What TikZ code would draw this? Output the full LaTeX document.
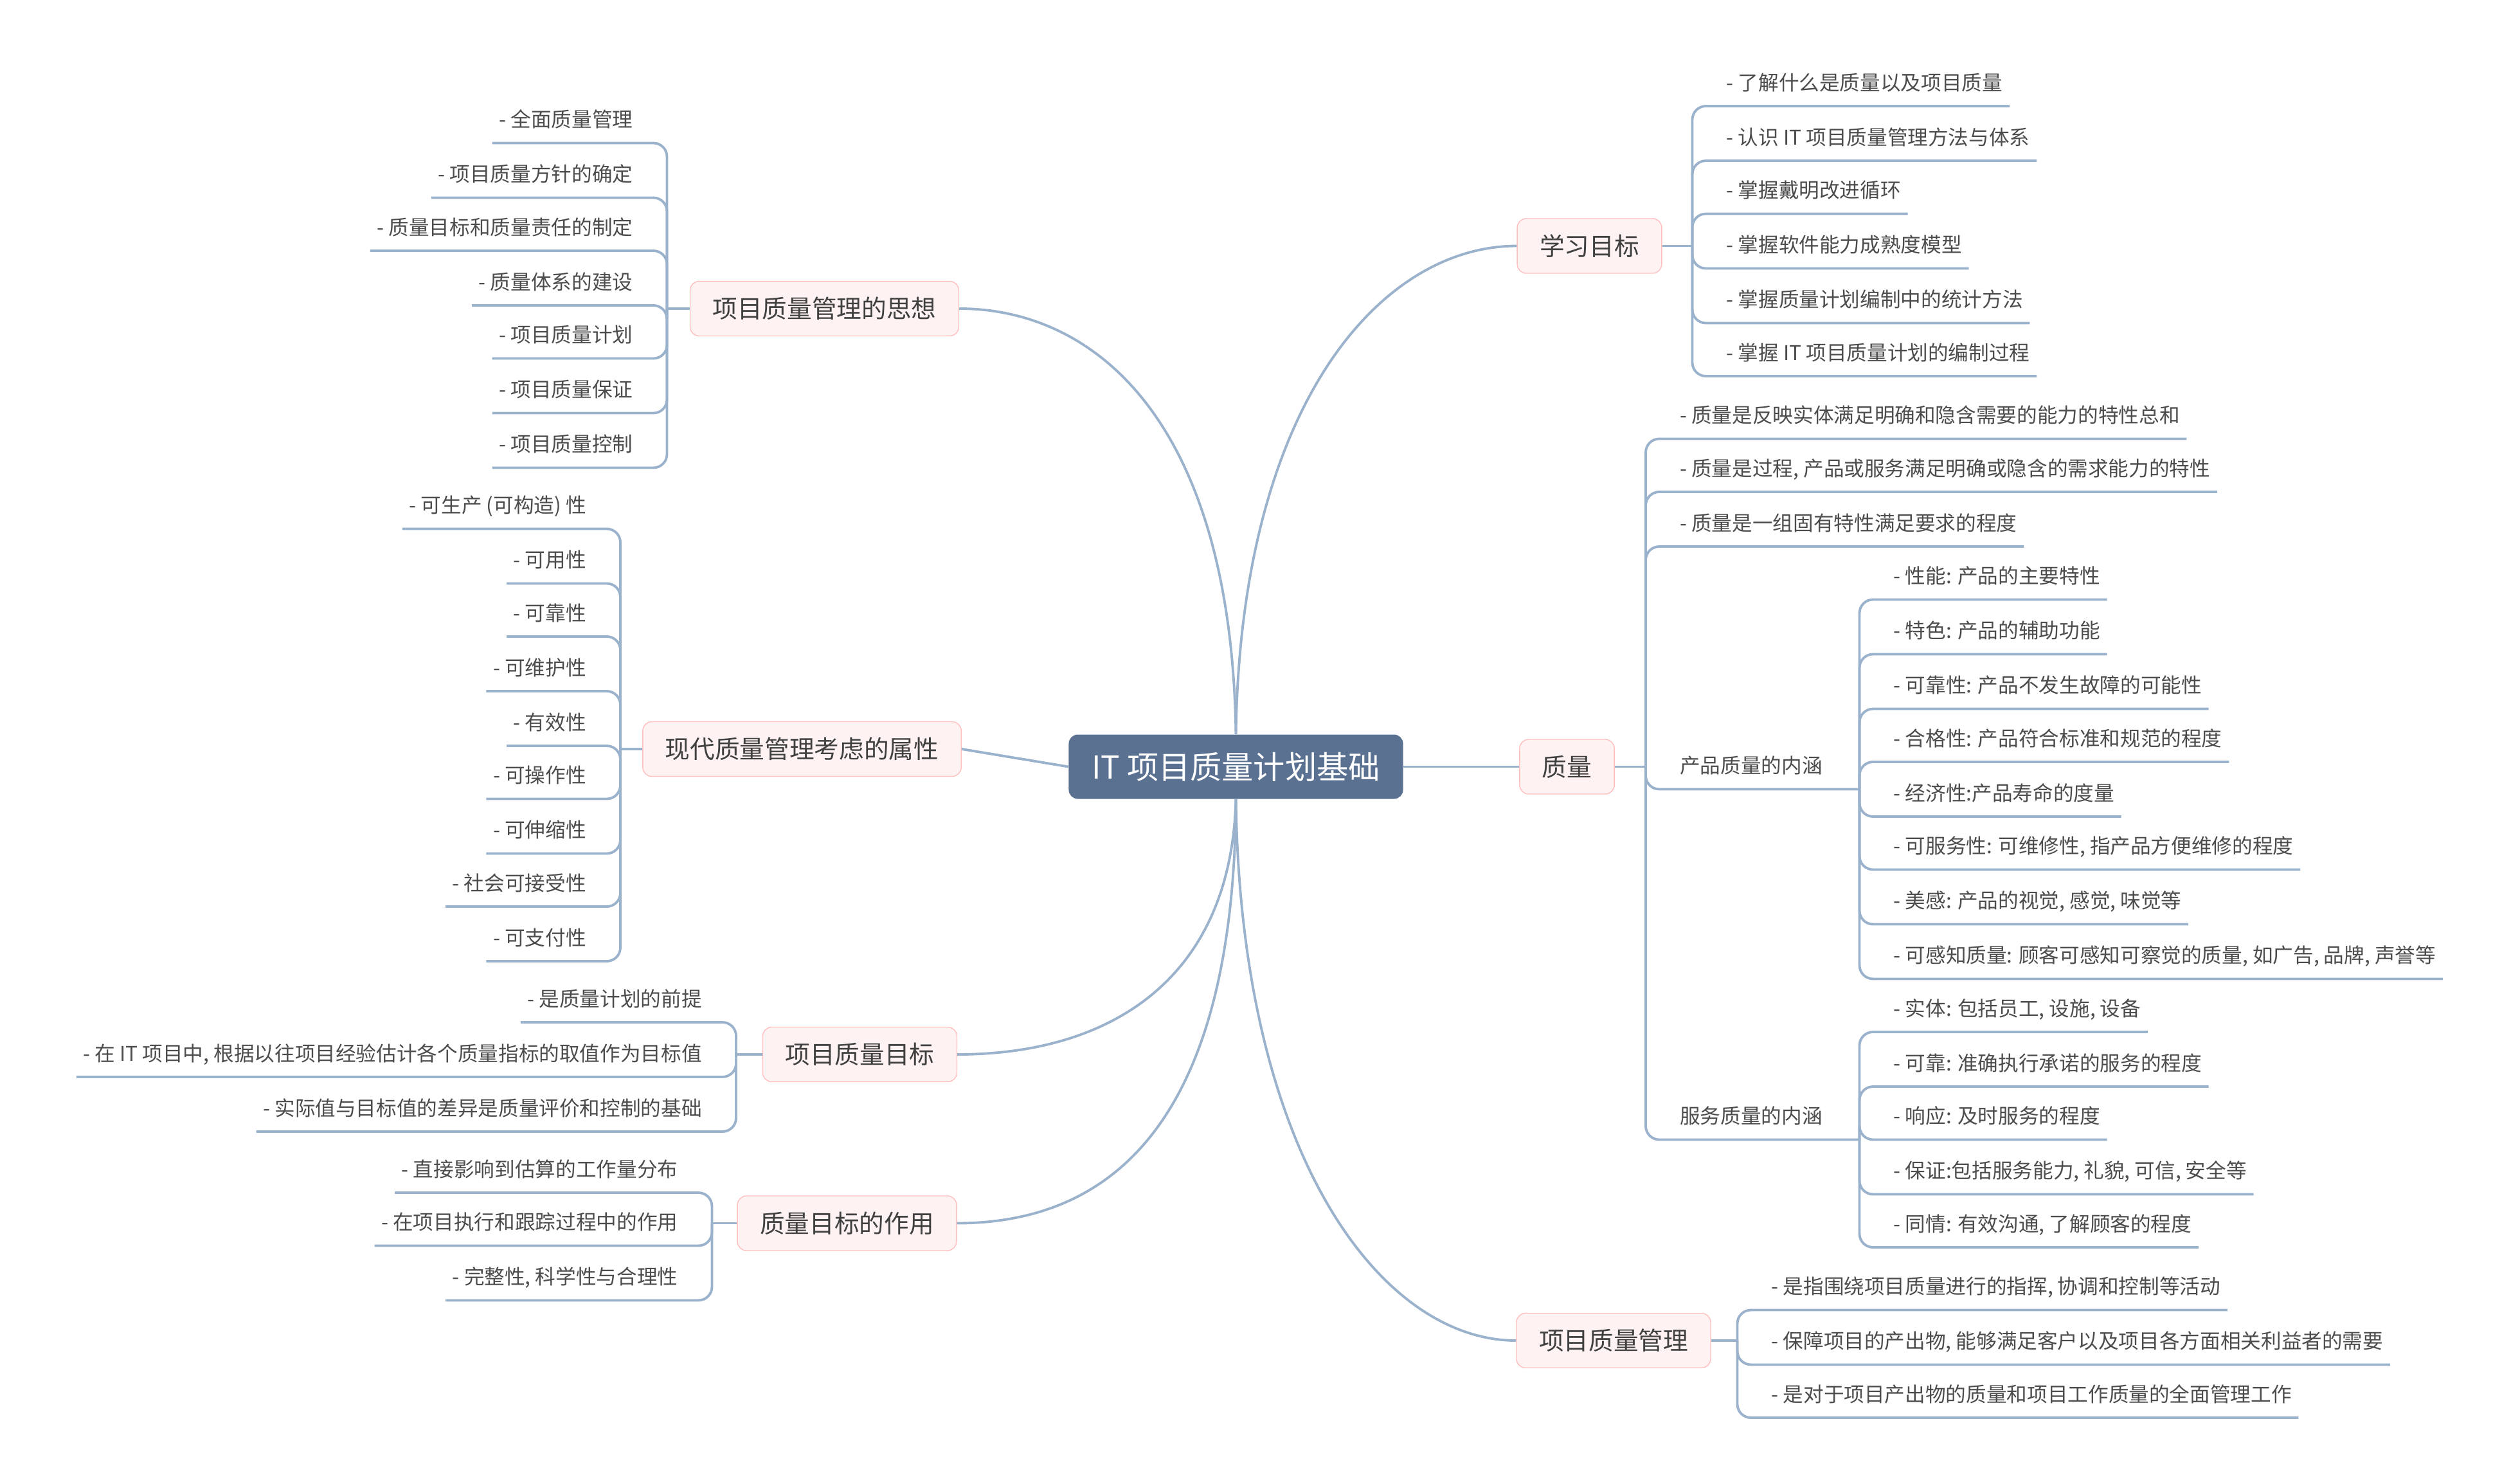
\documentclass[tikz,border=0pt]{standalone}
\usepackage{fontspec}
\setmainfont{Noto Sans CJK SC}
\begin{document}
\begin{tikzpicture}[x=0.025cm,y=-0.025cm,
  conn/.style={draw=black!25!blue!20!gray!60, line width=1.1pt},
  leaf/.style={font=\fontsize{9}{10}\selectfont, text=black!70, inner xsep=0.1cm, inner ysep=0pt},
  topic/.style={draw=red!25, fill=red!5, rounded corners=4pt, font=\fontsize{11}{12}\selectfont, text=black!75, minimum height=0.85cm, inner xsep=0.35cm},
  center/.style={fill={rgb,255:red,90;green,113;blue,145}, rounded corners=4pt, text=white, font=\fontsize{14}{15}\selectfont, minimum width=5.2cm, minimum height=1cm}]
\definecolor{lc}{RGB}{155,178,204}
\tikzset{conn/.style={draw=lc, line width=1.1pt}}
\useasboundingbox (0,0) rectangle (1568,922);
\newcommand{\RL}[5]{\node[leaf,anchor=base west] (#1) at (#2+17,#3+5) {#4};
  \coordinate (u#1) at (0,#3+15);
  \draw[conn,rounded corners=6pt] (#5) |- (#1.east |- u#1);}
\newcommand{\LL}[5]{\node[leaf,anchor=base east] (#1) at (#2-17,#3+5) {#4};
  \coordinate (u#1) at (0,#3+15);
  \draw[conn,rounded corners=6pt] (#5) |- (#1.west |- u#1);}
% center
\node[center] (c) at (769,477) {IT 项目质量计划基础};
% topics
\node[topic] (t1) at (989,153) {学习目标};
\node[topic] (t2) at (975,477) {质量};
\node[topic] (t3) at (1004,834) {项目质量管理};
\node[topic] (t4) at (513,192) {项目质量管理的思想};
\node[topic] (t5) at (499,466) {现代质量管理考虑的属性};
\node[topic] (t6) at (535,656) {项目质量目标};
\node[topic] (t7) at (527,761) {质量目标的作用};
\draw[conn] (c.north) .. controls (772,250) and (860,153) .. (t1.west);
\draw[conn] (c.east) -- (t2.west);
\draw[conn] (c.south) .. controls (772,720) and (860,834) .. (t3.west);
\draw[conn] (c.north) .. controls (766,260) and (680,192) .. (t4.east);
\draw[conn] (c.west) -- (t5.east);
\draw[conn] (c.south) .. controls (766,610) and (690,656) .. (t6.east);
\draw[conn] (c.south) .. controls (768,700) and (690,761) .. (t7.east);
% junctions
\coordinate (j1) at (1053,153); \draw[conn] (t1.east) -- (j1);
\coordinate (j2) at (1024,477); \draw[conn] (t2.east) -- (j2);
\coordinate (j3) at (1081,834); \draw[conn] (t3.east) -- (j3);
\coordinate (j4) at (415,192); \draw[conn] (t4.west) -- (j4);
\coordinate (j5) at (386,466); \draw[conn] (t5.west) -- (j5);
\coordinate (j6) at (458,656); \draw[conn] (t6.west) -- (j6);
\coordinate (j7) at (443,761); \draw[conn] (t7.west) -- (j7);
% 学习目标
\RL{a1}{1053}{51}{- 了解什么是质量以及项目质量}{j1}
\RL{a2}{1053}{85}{- 认识 IT 项目质量管理方法与体系}{j1}
\RL{a3}{1053}{118}{- 掌握戴明改进循环}{j1}
\RL{a4}{1053}{152}{- 掌握软件能力成熟度模型}{j1}
\RL{a5}{1053}{186}{- 掌握质量计划编制中的统计方法}{j1}
\RL{a6}{1053}{219}{- 掌握 IT 项目质量计划的编制过程}{j1}
% 质量
\RL{b1}{1024}{258}{- 质量是反映实体满足明确和隐含需要的能力的特性总和}{j2}
\RL{b2}{1024}{291}{- 质量是过程, 产品或服务满足明确或隐含的需求能力的特性}{j2}
\RL{b3}{1024}{325}{- 质量是一组固有特性满足要求的程度}{j2}
\node[leaf,anchor=base west] (bp) at (1041,481) {产品质量的内涵};
\coordinate (jp) at (1157,491);
\draw[conn,rounded corners=6pt] (j2) |- (jp);
\node[leaf,anchor=base west] (bs) at (1041,699) {服务质量的内涵};
\coordinate (js) at (1157,709);
\draw[conn,rounded corners=6pt] (j2) |- (js);
\RL{p1}{1157}{358}{- 性能: 产品的主要特性}{jp}
\RL{p2}{1157}{392}{- 特色: 产品的辅助功能}{jp}
\RL{p3}{1157}{426}{- 可靠性: 产品不发生故障的可能性}{jp}
\RL{p4}{1157}{459}{- 合格性: 产品符合标准和规范的程度}{jp}
\RL{p5}{1157}{493}{- 经济性:产品寿命的度量}{jp}
\RL{p6}{1157}{526}{- 可服务性: 可维修性, 指产品方便维修的程度}{jp}
\RL{p7}{1157}{560}{- 美感: 产品的视觉, 感觉, 味觉等}{jp}
\RL{p8}{1157}{594}{- 可感知质量: 顾客可感知可察觉的质量, 如广告, 品牌, 声誉等}{jp}
\RL{s1}{1157}{627}{- 实体: 包括员工, 设施, 设备}{js}
\RL{s2}{1157}{661}{- 可靠: 准确执行承诺的服务的程度}{js}
\RL{s3}{1157}{694}{- 响应: 及时服务的程度}{js}
\RL{s4}{1157}{728}{- 保证:包括服务能力, 礼貌, 可信, 安全等}{js}
\RL{s5}{1157}{761}{- 同情: 有效沟通, 了解顾客的程度}{js}
% 项目质量管理
\RL{m1}{1081}{800}{- 是指围绕项目质量进行的指挥, 协调和控制等活动}{j3}
\RL{m2}{1081}{834}{- 保障项目的产出物, 能够满足客户以及项目各方面相关利益者的需要}{j3}
\RL{m3}{1081}{867}{- 是对于项目产出物的质量和项目工作质量的全面管理工作}{j3}
% 思想
\LL{d1}{415}{74}{- 全面质量管理}{j4}
\LL{d2}{415}{108}{- 项目质量方针的确定}{j4}
\LL{d3}{415}{141}{- 质量目标和质量责任的制定}{j4}
\LL{d4}{415}{175}{- 质量体系的建设}{j4}
\LL{d5}{415}{208}{- 项目质量计划}{j4}
\LL{d6}{415}{242}{- 项目质量保证}{j4}
\LL{d7}{415}{276}{- 项目质量控制}{j4}
% 属性
\LL{e1}{386}{314}{- 可生产 (可构造) 性}{j5}
\LL{e2}{386}{348}{- 可用性}{j5}
\LL{e3}{386}{381}{- 可靠性}{j5}
\LL{e4}{386}{415}{- 可维护性}{j5}
\LL{e5}{386}{449}{- 有效性}{j5}
\LL{e6}{386}{482}{- 可操作性}{j5}
\LL{e7}{386}{516}{- 可伸缩性}{j5}
\LL{e8}{386}{549}{- 社会可接受性}{j5}
\LL{e9}{386}{583}{- 可支付性}{j5}
% 目标
\LL{f1}{458}{621}{- 是质量计划的前提}{j6}
\LL{f2}{458}{655}{- 在 IT 项目中, 根据以往项目经验估计各个质量指标的取值作为目标值}{j6}
\LL{f3}{458}{689}{- 实际值与目标值的差异是质量评价和控制的基础}{j6}
% 作用
\LL{g1}{443}{727}{- 直接影响到估算的工作量分布}{j7}
\LL{g2}{443}{760}{- 在项目执行和跟踪过程中的作用}{j7}
\LL{g3}{443}{794}{- 完整性, 科学性与合理性}{j7}
\end{tikzpicture}
\end{document}
